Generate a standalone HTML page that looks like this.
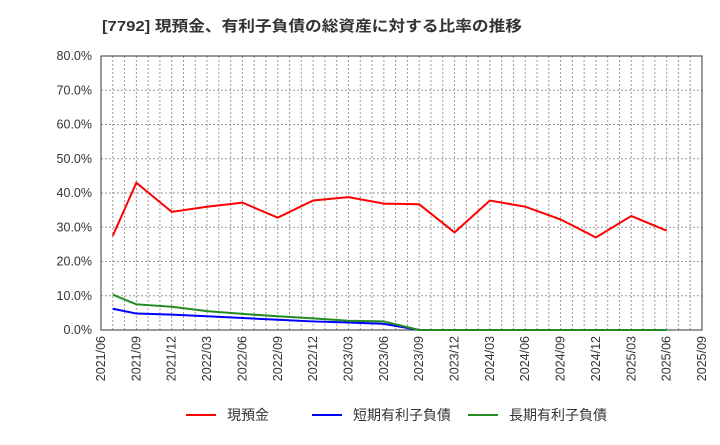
<!DOCTYPE html>
<html><head><meta charset="utf-8">
<style>
body{margin:0;background:#fff;font-family:"Liberation Sans","Noto Sans CJK JP",sans-serif;}
svg text{font-family:"Liberation Sans","Noto Sans CJK JP",sans-serif;}
</style></head>
<body>
<svg id="chart" width="720" height="440" xmlns="http://www.w3.org/2000/svg">
<text x="102" y="31" font-size="15" font-weight="bold" fill="#333" textLength="420" lengthAdjust="spacingAndGlyphs">[7792]  現預金、有利子負債の総資産に対する比率の推移</text>
<g id="grid"></g><g id="axes"></g><g id="series"></g><g id="legend"></g>
</svg>
<script>
const xTickLabels=["2021/06","2021/09","2021/12","2022/03","2022/06","2022/09","2022/12","2023/03","2023/06","2023/09","2023/12","2024/03","2024/06","2024/09","2024/12","2025/03","2025/06","2025/09"];
const yTickLabels=["0.0%","10.0%","20.0%","30.0%","40.0%","50.0%","60.0%","70.0%","80.0%"];
const cashMonths=[1,3,6,9,12,15,18,21,24,27,30,33,36,39,42,45,48];
const cashValues=[27.5,43.0,34.5,36.0,37.2,32.8,37.8,38.8,36.9,36.7,28.5,37.8,36.0,32.3,27.0,33.3,29.0];
const shortMonths=[1,3,6,9,12,15,18,21,24,27,30,33,36,39];
const shortValues=[6.2,4.8,4.5,4.0,3.5,3.0,2.5,2.2,1.8,0,0,0,0,0];
const longMonths=[1,3,6,9,12,15,18,21,24,27,30,33,36,39,42,45,48];
const longValues=[10.3,7.5,6.8,5.5,4.7,4.0,3.4,2.7,2.5,0,0,0,0,0,0,0,0];
const X0=101,X1=702,Y0=330,Y1=56,NM=51,YMAX=80;
const xs=m=>X0+(X1-X0)*m/NM;
const ys=v=>Y0-(Y0-Y1)*v/YMAX;
const NS="http://www.w3.org/2000/svg";
function mk(tag,attrs,parent){const e=document.createElementNS(NS,tag);for(const k in attrs)e.setAttribute(k,attrs[k]);document.getElementById(parent).appendChild(e);return e;}
for(let m=1;m<NM;m++){const l=mk('line',{x1:xs(m),x2:xs(m),y1:Y1,y2:Y0,stroke:'#999','stroke-dasharray':'2,2','stroke-width':1},'grid');

}
yTickLabels.forEach((t,i)=>{const v=i*10;const y=ys(v);
if(i>0){const l=mk('line',{x1:X0,x2:X1,y1:y,y2:y,stroke:'#999','stroke-dasharray':'2,2','stroke-width':1},'grid');

}
const tx=mk('text',{x:92,y:y+4,'font-size':12.5,'text-anchor':'end',fill:'#333'},'axes');tx.textContent=t;

});
xTickLabels.forEach((t,i)=>{const x=xs(i*3);
const tx=mk('text',{x:0,y:0,'font-size':12.5,'text-anchor':'end',fill:'#333',transform:`translate(${x+4},336) rotate(-90)`},'axes');tx.textContent=t;

});
const fr=mk('rect',{x:X0,y:Y1,width:X1-X0,height:Y0-Y1,fill:'none',stroke:'#333','stroke-width':1},'axes');


function series(ms,vs,color,name){const p=mk('polyline',{points:ms.map((m,i)=>xs(m)+','+ys(vs[i])).join(' '),fill:'none',stroke:color,'stroke-width':2},'series');

}
series(shortMonths,shortValues,'#0000ff','short-term-debt-line');
series(longMonths,longValues,'#228b22','long-term-debt-line');
series(cashMonths,cashValues,'#ff0000','cash-line');
const leg=[["現預金","#ff0000",186],["短期有利子負債","#0000ff",312],["長期有利子負債","#228b22",468]];
leg.forEach(([t,c,x])=>{const l=mk('line',{x1:x,x2:x+30,y1:415,y2:415,stroke:c,'stroke-width':2},'legend');


const tx=mk('text',{x:x+41,y:420,'font-size':14,fill:'#333'},'legend');tx.textContent=t;

});
</script>
</body></html>
